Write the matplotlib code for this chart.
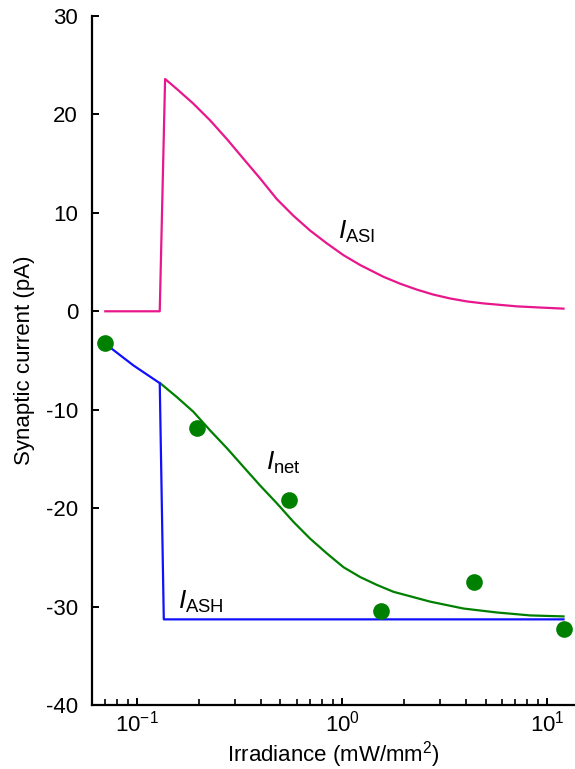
import numpy as np
import matplotlib.pyplot as plt

plt.rcParams['font.family'] = ['Liberation Sans', 'DejaVu Sans']
plt.rcParams['mathtext.fontset'] = 'custom'
plt.rcParams['mathtext.rm'] = 'Liberation Sans'
plt.rcParams['mathtext.it'] = 'Liberation Sans:italic'
plt.rcParams['mathtext.default'] = 'regular'
plt.rcParams['axes.unicode_minus'] = False

# datos
puntos_x = [0.07, 0.197, 0.553, 1.55, 4.37, 12.0]
puntos_y = [-3.2, -11.9, -19.2, -30.5, -27.5, -32.3]

asi_x = [0.07, 0.129, 0.137, 0.156, 0.188, 0.227, 0.274, 0.330, 0.398, 0.480, 0.579,
         0.698, 0.842, 1.015, 1.224, 1.591, 1.919, 2.314, 2.779, 3.364, 4.058, 4.890,
         7.115, 9.245, 12.0]
asi_y = [0.0, 0.0, 23.6, 22.6, 21.1, 19.4, 17.5, 15.5, 13.5, 11.4, 9.7,
         8.2, 6.9, 5.7, 4.7, 3.5, 2.8, 2.2, 1.7, 1.3, 1.0, 0.8,
         0.5, 0.38, 0.27]

ash_x = [0.07, 0.096, 0.129, 0.135, 12.0]
ash_y = [-3.3, -5.5, -7.3, -31.3, -31.3]

net_x = [0.1295, 0.156, 0.188, 0.227, 0.274, 0.330, 0.398, 0.480, 0.579, 0.698,
         0.842, 1.015, 1.224, 1.477, 1.779, 2.687, 3.906, 5.683, 8.263, 12.0]
net_y = [-7.3, -8.7, -10.2, -12.1, -13.9, -15.8, -17.7, -19.5, -21.4, -23.1,
         -24.6, -26.0, -27.0, -27.8, -28.5, -29.5, -30.2, -30.6, -30.9, -31.0]

fig = plt.figure(figsize=(5.75, 7.69), dpi=100)
ax = fig.add_axes([92/575, 1 - 705/769, (574 - 92)/575, (705 - 16)/769])

ax.plot(asi_x, asi_y, color='#E8178C', lw=1.6)
ax.plot(net_x, net_y, color='#008000', lw=1.6)
ax.plot(ash_x, ash_y, color='#1010FF', lw=1.6)
ax.plot(puntos_x, puntos_y, 'o', color='#008000', ms=12, mec='none')

ax.set_xscale('log')
ax.set_xlim(0.0603, 13.5)
ax.set_ylim(-40, 30)
ax.set_yticks([-40, -30, -20, -10, 0, 10, 20, 30])

ax.text(0.956, 7.4, r'$\mathit{I}_{\mathrm{ASI}}$', fontsize=19, ha='left', va='baseline')
ax.text(0.425, -16.1, r'$\mathit{I}_{\mathrm{net}}$', fontsize=19, ha='left', va='baseline')
ax.text(0.158, -30.2, r'$\mathit{I}_{\mathrm{ASH}}$', fontsize=19, ha='left', va='baseline')

for s in ['top', 'right']:
    ax.spines[s].set_visible(False)
for s in ['left', 'bottom']:
    ax.spines[s].set_linewidth(1.6)

ax.tick_params(axis='both', which='major', direction='in', length=5, width=1.4, labelsize=16)
ax.tick_params(axis='y', which='major', pad=10)
ax.tick_params(axis='x', which='major', pad=4)
ax.tick_params(axis='x', which='minor', direction='in', length=4, width=1.2)

ax.set_ylabel('Synaptic current (pA)', fontsize=16, labelpad=8)
ax.set_xlabel('Irradiance (mW/mm$^2$)', fontsize=16, labelpad=2)

fig.savefig('out.png', dpi=100)
